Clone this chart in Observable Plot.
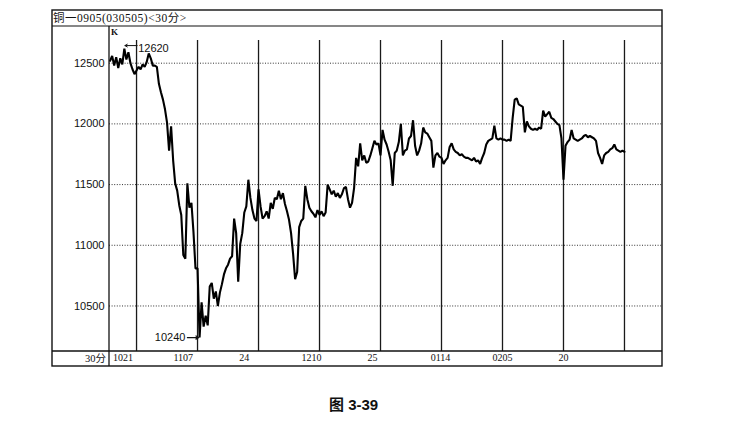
<!DOCTYPE html>
<html><head><meta charset="utf-8">
<script src="https://cdn.jsdelivr.net/npm/d3@7"></script>
<script src="https://cdn.jsdelivr.net/npm/@observablehq/plot@0.6"></script>
<style>
body{margin:0;background:#fff;width:735px;height:424px;position:relative;overflow:hidden;}
#chart svg{display:block;}
#cap{position:absolute;left:329px;top:395px;font:bold 15px "Liberation Sans","Noto Sans CJK SC",sans-serif;line-height:20px;color:#111;}
</style></head><body><div id="chart"></div><div id="cap">图 3-39</div>
<script>
const title = "铜一0905(030505)<30分>";
const periodLabel = "30分";
const yTicks = [10500, 11000, 11500, 12000, 12500];
const gridBars = [13, 43, 73, 103, 133, 163, 193, 223, 253];
const xTickBars = [6.3, 36, 66, 99, 129, 162.5, 193, 223];
const xTickLabels = ["1021", "1107", "24", "1210", "25", "0114", "0205", "20"];

// 30-minute closing prices, one array per grid period
const p0 = [12520,12560,12480,12550,12460,12540,12490,12620,12530,12590,12500,12450,12410];
const p1 = [12440,12470,12450,12490,12470,12510,12580,12540,12480,12480,12470,12330,12260,12200,12120,12010,11780,11980,11700,11510,11450,11330,11250,10920,10890,11510,11310,11350,11110,10810];
const p2 = [10810,10240,10530,10330,10420,10340,10660,10690,10560,10620,10500,10610,10680,10760,10810,10840,10890,10910,11220,11100,10700,11010,11100,11270,11320,11540,11390,11290,11220,11200];
const p3 = [11460,11320,11220,11240,11280,11220,11350,11300,11390,11380,11450,11380,11430,11340,11280,11210,11100,10930,10720,10780,11150,11200,11220,11490,11380,11310,11280,11260,11230,11290];
const p4 = [11250,11280,11240,11270,11500,11460,11420,11450,11400,11430,11390,11420,11470,11480,11380,11310,11350,11470,11720,11650,11840,11700,11740,11680,11690,11740,11800,11860,11830,11840];
const p5 = [11740,11950,11870,11830,11770,11700,11490,11760,11780,11850,12000,11740,11780,11790,11880,11900,12030,11820,11740,11780,11840,11970,11930,11920,11890,11860,11640,11740,11760,11730];
const p6 = [11720,11670,11700,11720,11810,11840,11790,11770,11760,11740,11750,11730,11720,11720,11710,11700,11720,11690,11700,11670,11720,11760,11830,11860,11870,11880,11985,11880,11870,11880];
const p7 = [11870,11870,11860,11870,11860,12050,12200,12210,12160,12150,12140,11930,12020,11980,11960,11950,11960,11950,11970,11960,12110,12060,12080,12100,12050,12040,12020,12000,11990,11880];
const p8 = [11540,11820,11850,11870,11950,11880,11870,11860,11870,11880,11900,11910,11890,11900,11890,11880,11860,11760,11720,11670,11740,11760,11770,11790,11800,11830,11790,11780,11770,11780,11770];

const close = [].concat(p0, p1, p2, p3, p4, p5, p6, p7, p8);
const series = close.map((v, i) => ({bar: i, price: v}));
const hi = d3.maxIndex(close), lo = d3.minIndex(close);
const hiPt = [{bar: hi, price: close[hi]}];
const loPt = [{bar: lo, price: close[lo]}];
const xTicks = xTickBars.map((b, i) => ({bar: b, label: xTickLabels[i]}));

function frameMark(index, scales, values, dims) {
  const L = dims.marginLeft, R = dims.width - dims.marginRight;
  const T = dims.marginTop, B = dims.height - dims.marginBottom;
  const left = L - 57, top = T - 17, bottom = B + 15;
  const g = d3.create("svg:g");
  const s = g.append("g").attr("fill", "none").attr("stroke", "#111");
  s.append("rect").attr("x", left).attr("y", top).attr("width", R - left).attr("height", bottom - top).attr("stroke-width", 1.4);
  s.append("line").attr("x1", left).attr("x2", R).attr("y1", T - 1).attr("y2", T - 1).attr("stroke-width", 1.2);
  s.append("line").attr("x1", left).attr("x2", R).attr("y1", B).attr("y2", B).attr("stroke-width", 1.3);
  s.append("line").attr("x1", L).attr("x2", L).attr("y1", T - 1).attr("y2", bottom).attr("stroke-width", 1.3);
  const t = g.append("g").attr("fill", "#111").attr("font-family", "'Liberation Serif','Noto Sans CJK SC',serif");
  t.append("text").attr("x", left + 1).attr("y", top + 12).attr("font-size", 11.5).attr("letter-spacing", 0.5).attr("text-anchor", "start").text(title);
  t.append("text").attr("x", L - 3).attr("y", B + 11).attr("font-size", 10.5).attr("text-anchor", "end").text(periodLabel);
  t.append("text").attr("x", L + 2).attr("y", T + 8).attr("font-size", 9).attr("font-weight", "bold").attr("text-anchor", "start").text("K");
  return g.node();
}

const chart = Plot.plot({
  width: 735,
  height: 380,
  marginTop: 27,
  marginBottom: 29,
  marginLeft: 109,
  marginRight: 73,
  x: {domain: [-0.3, 271.7], axis: null},
  y: {domain: [10125, 12794], axis: null},
  style: {background: "#fff"},
  marks: [
    Plot.ruleY(yTicks, {stroke: "#333", strokeWidth: 1, strokeDasharray: "1,1.6"}),
    Plot.ruleX(gridBars, {stroke: "#1a1a1a", strokeWidth: 1.3, insetTop: 13}),
    Plot.text(yTicks, {x: -0.3, y: d => d, text: d => String(d), textAnchor: "end", dx: -5, fontSize: 11, fill: "#111", fontFamily: "'Liberation Sans',sans-serif"}),
    Plot.text(xTicks, {x: "bar", text: "label", frameAnchor: "bottom", dy: 9, fontSize: 10, fill: "#111", fontFamily: "'Liberation Serif',serif"}),
    Plot.line(series, {x: "bar", y: "price", stroke: "#000", strokeWidth: 2.1, strokeLinejoin: "miter", curve: "linear"}),
    Plot.arrow(hiPt, {x1: d => d.bar + 6.3, x2: d => d.bar + 0.3, y1: d => d.price + 25, y2: d => d.price + 25, stroke: "#111", strokeWidth: 1, headLength: 4, bend: 0}),
    Plot.text(hiPt, {x: d => d.bar + 6.3, y: d => d.price, text: d => String(d.price), textAnchor: "start", dx: 1, fontSize: 11, fill: "#111", fontFamily: "'Liberation Sans',sans-serif"}),
    Plot.arrow(loPt, {x1: d => d.bar - 6, x2: d => d.bar - 0.4, y1: d => d.price, y2: d => d.price, stroke: "#111", strokeWidth: 1.2, headLength: 4, bend: 0}),
    Plot.text(loPt, {x: d => d.bar - 6, y: d => d.price, text: d => String(d.price), textAnchor: "end", dx: -2, fontSize: 11, fill: "#111", fontFamily: "'Liberation Sans',sans-serif"}),
    frameMark
  ]
});
document.getElementById("chart").appendChild(chart);
</script></body></html>
